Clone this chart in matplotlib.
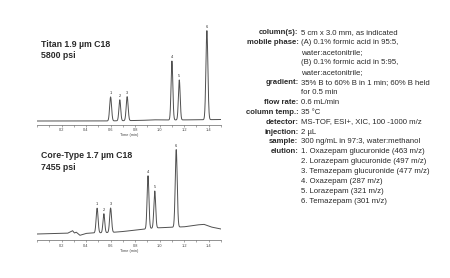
#!/usr/bin/env python3

"""
Two chromatograms (Titan vs core-type C18) with the method conditions on the right
"""

import numpy as np
import matplotlib.pyplot as plt
from matplotlib import ticker

plt.rcParams['font.family'] = ['Liberation Sans', 'DejaVu Sans']

# peak table: retention time (min), height above baseline, width (sigma, min)
titan_rt = [0.60, 0.675, 0.735, 1.10, 1.16, 1.385]
titan_height = [24, 21, 24, 59, 40, 89]
titan_sigma = [0.0078, 0.0072, 0.0078, 0.0072, 0.0072, 0.0080]
titan_base_t = [0.0, 0.55, 0.85, 0.95, 1.05, 1.3, 1.5]
titan_base_y = [0.0, 0.0, 0.6, 1.2, 1.0, 1.2, 1.5]

core_rt = [0.49, 0.545, 0.60, 0.905, 0.96, 1.135]
core_height = [24.7, 19, 24.5, 53, 37, 77.5]
core_sigma = [0.0078, 0.0072, 0.0078, 0.0074, 0.0074, 0.0080]
core_base_t = [0.0, 0.25, 0.29, 0.305, 0.32, 0.35, 0.40, 0.45, 0.60, 0.70,
               0.85, 0.95, 1.05, 1.20, 1.30, 1.36, 1.42, 1.50]
core_base_y = [0.0, 0.8, 3.3, 1.0, 1.8, -1.3, 0.6, 1.0, 1.5, 2.5,
               4.5, 6.0, 6.5, 7.2, 9.0, 9.7, 7.0, 5.0]

peak_labels = ['1', '2', '3', '4', '5', '6']

titles = [('Titan 1.9 \u00b5m C18', '5800 psi'),
          ('Core-Type 1.7 \u00b5m C18', '7455 psi')]

cond_labels = ['column(s):', 'mobile phase:', '', '', '', 'gradient:', '',
               'flow rate:', 'column temp.:', 'detector:', 'injection:',
               'sample:', 'elution:', '', '', '', '', '']
cond_values = ['5 cm x 3.0 mm, as indicated',
               '(A) 0.1% formic acid in 95:5,',
               'water:acetonitrile;',
               '(B) 0.1% formic acid in 5:95,',
               'water:acetonitrile;',
               '35% B to 60% B in 1 min; 60% B held',
               'for 0.5 min',
               '0.6 mL/min',
               '35 \u00b0C',
               'MS-TOF, ESI+, XIC, 100 -1000 m/z',
               '2 \u00b5L',
               '300 ng/mL in 97:3, water:methanol',
               '1. Oxazepam glucuronide (463 m/z)',
               '2. Lorazepam glucuronide (497 m/z)',
               '3. Temazepam glucuronide (477 m/z)',
               '4. Oxazepam (287 m/z)',
               '5. Lorazepam (321 m/z)',
               '6. Temazepam (301 m/z)']

TRACE = '#505050'
TEXT = '#2a2a2a'


def trace(rt, height, sigma, base_t, base_y):
    """
    build a chromatogram from the peak table
    """
    t = np.linspace(0, 1.5, 1500)
    y = np.interp(t, base_t, base_y)
    for r, h, s in zip(rt, height, sigma):
        y = y + h * np.exp(-0.5 * ((t - r) / s) ** 2)
    return t, y


def chrom_plot(ax, rt, height, sigma, base_t, base_y, ylo):
    t, y = trace(rt, height, sigma, base_t, base_y)
    ax.plot(t, y, color=TRACE, lw=0.7)
    base_at_peak = np.interp(rt, base_t, base_y)
    for r, h, b, lab in zip(rt, height, base_at_peak, peak_labels):
        ax.text(r, b + h + 2, lab, ha='center', va='bottom',
                fontsize=2.8, color=TEXT)
    ax.set_xlim(0, 1.5)
    ax.set_ylim(ylo, ylo + 100)
    for side in ['top', 'right', 'left']:
        ax.spines[side].set_visible(False)
    ax.spines['bottom'].set_color('#666666')
    ax.spines['bottom'].set_linewidth(0.5)
    ax.set_yticks([])
    ax.xaxis.set_major_locator(ticker.FixedLocator([0.2, 0.4, 0.6, 0.8, 1.0, 1.2, 1.4]))
    ax.xaxis.set_major_formatter(ticker.FormatStrFormatter('%.1f'))
    ax.xaxis.set_minor_locator(ticker.MultipleLocator(0.1))
    ax.tick_params(axis='x', which='both', length=1.5, width=0.4,
                   color='#666666', labelsize=2.8, labelcolor='#444444', pad=1.2)
    ax.set_xlabel('Time (min)', fontsize=2.8, color='#444444', labelpad=0.8)
    ax.patch.set_alpha(0)


def main():
    fig = plt.figure(figsize=(4.5, 2.78), dpi=100)

    ax1 = fig.add_axes([37 / 450, 1 - 124.5 / 278, 184 / 450, 100 / 278])
    chrom_plot(ax1, titan_rt, titan_height, titan_sigma,
               titan_base_t, titan_base_y, -3.5)

    ax2 = fig.add_axes([37 / 450, 1 - 240 / 278, 184 / 450, 100 / 278])
    chrom_plot(ax2, core_rt, core_height, core_sigma,
               core_base_t, core_base_y, -6)

    # column names
    for (l1, l2), y1 in zip(titles, [47, 158.3]):
        fig.text(41 / 450, 1 - y1 / 278, l1, fontsize=6.3, weight='bold',
                 color=TEXT, va='baseline')
        fig.text(41 / 450, 1 - (y1 + 11.3) / 278, l2, fontsize=6.3,
                 weight='bold', color=TEXT, va='baseline')

    # conditions
    for i, (lab, val) in enumerate(zip(cond_labels, cond_values)):
        yy = 1 - (33.7 + 9.98 * i) / 278
        if lab:
            fig.text(298.5 / 450, yy, lab, fontsize=5.6, weight='bold',
                     color=TEXT, ha='right', va='baseline')
        fig.text(301.3 / 450, yy, val, fontsize=5.6, color=TEXT,
                 ha='left', va='baseline')

    fig.savefig('out.png', dpi=100)


if __name__ == '__main__':
    main()
